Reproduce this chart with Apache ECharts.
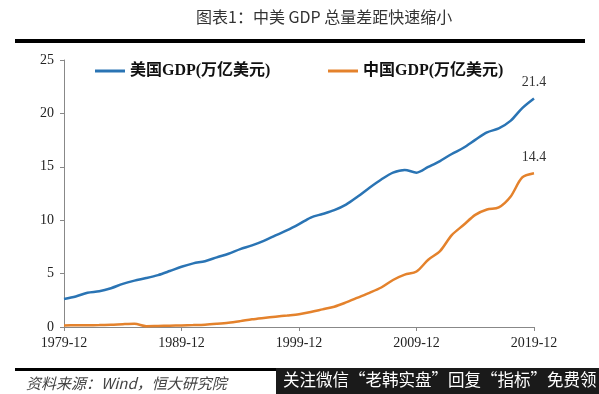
<!DOCTYPE html>
<html><head><meta charset="utf-8">
<script src="https://cdn.jsdelivr.net/npm/echarts@6/dist/echarts.min.js"></script>
<style>html,body{margin:0;padding:0;background:#fff}#c{width:599px;height:394px}</style>
</head><body><div id="c"></div>
<script>
const years = [];
for (let y = 1979; y <= 2019; y++) years.push(y + '-12');
const usGDP = [2.63,2.86,3.21,3.34,3.63,4.04,4.34,4.58,4.86,5.24,5.64,5.96,6.16,6.52,6.86,7.29,7.64,8.07,8.58,9.06,9.63,10.25,10.58,10.94,11.46,12.21,13.04,13.81,14.45,14.71,14.45,14.99,15.54,16.20,16.78,17.52,18.22,18.6,19.3,20.5,21.4];
const cnGDP = [0.15,0.16,0.17,0.18,0.2,0.26,0.3,0.08,0.1,0.12,0.15,0.18,0.22,0.3,0.4,0.55,0.72,0.85,0.97,1.08,1.2,1.4,1.65,1.9,2.3,2.75,3.2,3.7,4.4,4.9,5.2,6.3,7.1,8.6,9.55,10.5,11.0,11.2,12.2,14.0,14.4];
const yTicks = [0,5,10,15,20,25];
const serif = '"Liberation Serif","Times New Roman","Noto Sans CJK SC",serif';
const last = years.length - 1;
const chart = echarts.init(document.getElementById('c'));
function endLabel(p){ return p.dataIndex === last ? Number(p.value).toFixed(1) : ''; }
chart.setOption({
  animation: false,
  grid: {left: 64, right: 65, top: 60, bottom: 67},
  legend: [
    {data: ['美国GDP(万亿美元)'], left: 90, top: 58, icon: 'rect', itemWidth: 30, itemHeight: 3,
     textStyle: {fontFamily: serif, fontWeight: 'bold', fontSize: 16, color: '#111'}},
    {data: ['中国GDP(万亿美元)'], left: 323, top: 58, icon: 'rect', itemWidth: 30, itemHeight: 3,
     textStyle: {fontFamily: serif, fontWeight: 'bold', fontSize: 16, color: '#111'}}
  ],
  xAxis: {
    type: 'category', data: years, boundaryGap: false,
    axisLine: {lineStyle: {color: '#888', width: 1}},
    axisTick: {interval: 9, length: 4, lineStyle: {color: '#888'}},
    axisLabel: {interval: 9, fontFamily: serif, fontSize: 14, color: '#222', margin: 9}
  },
  yAxis: {
    type: 'value', min: yTicks[0], max: yTicks[yTicks.length-1], interval: 5,
    splitLine: {show: false},
    axisLine: {show: true, lineStyle: {color: '#888'}},
    axisTick: {show: true, length: 4, lineStyle: {color: '#888'}},
    axisLabel: {fontFamily: serif, fontSize: 14, color: '#222', margin: 10}
  },
  series: [
    {name: '美国GDP(万亿美元)', type: 'line', data: usGDP, smooth: 0.3, symbol: 'circle', symbolSize: 0, showSymbol: true,
     lineStyle: {color: '#2a74b4', width: 2.5}, itemStyle: {color: '#2a74b4'},
     label: {show: true, position: 'top', distance: 9, formatter: endLabel, fontFamily: serif, fontSize: 14, color: '#333'}},
    {name: '中国GDP(万亿美元)', type: 'line', data: cnGDP, smooth: 0.3, symbol: 'circle', symbolSize: 0, showSymbol: true,
     lineStyle: {color: '#e4822c', width: 2.5}, itemStyle: {color: '#e4822c'},
     label: {show: true, position: 'top', distance: 9, formatter: endLabel, fontFamily: serif, fontSize: 14, color: '#333'}}
  ],
  graphic: [
    {type: 'text', left: 196, top: 9, style: {text: '图表1：中美 GDP 总量差距快速缩小', font: '16px "Noto Sans CJK SC"', fill: '#333'}},
    {type: 'rect', shape: {x: 15, y: 39, width: 570, height: 4}, style: {fill: '#000'}},
    {type: 'rect', shape: {x: 15, y: 368, width: 570, height: 3}, style: {fill: '#000'}},
    {type: 'text', left: 26, top: 376, style: {text: '资料来源：Wind，恒大研究院', font: 'italic 15px "Noto Sans CJK SC"', fill: '#444'}},
    {type: 'rect', shape: {x: 276, y: 368, width: 323, height: 26}, style: {fill: '#1a1a1a'}},
    {type: 'text', left: 283, top: 371, style: {text: '关注微信“老韩实盘”回复“指标”免费领', font: '16.5px "Noto Sans CJK SC"', fill: '#fff'}}
  ]
});
</script></body></html>
